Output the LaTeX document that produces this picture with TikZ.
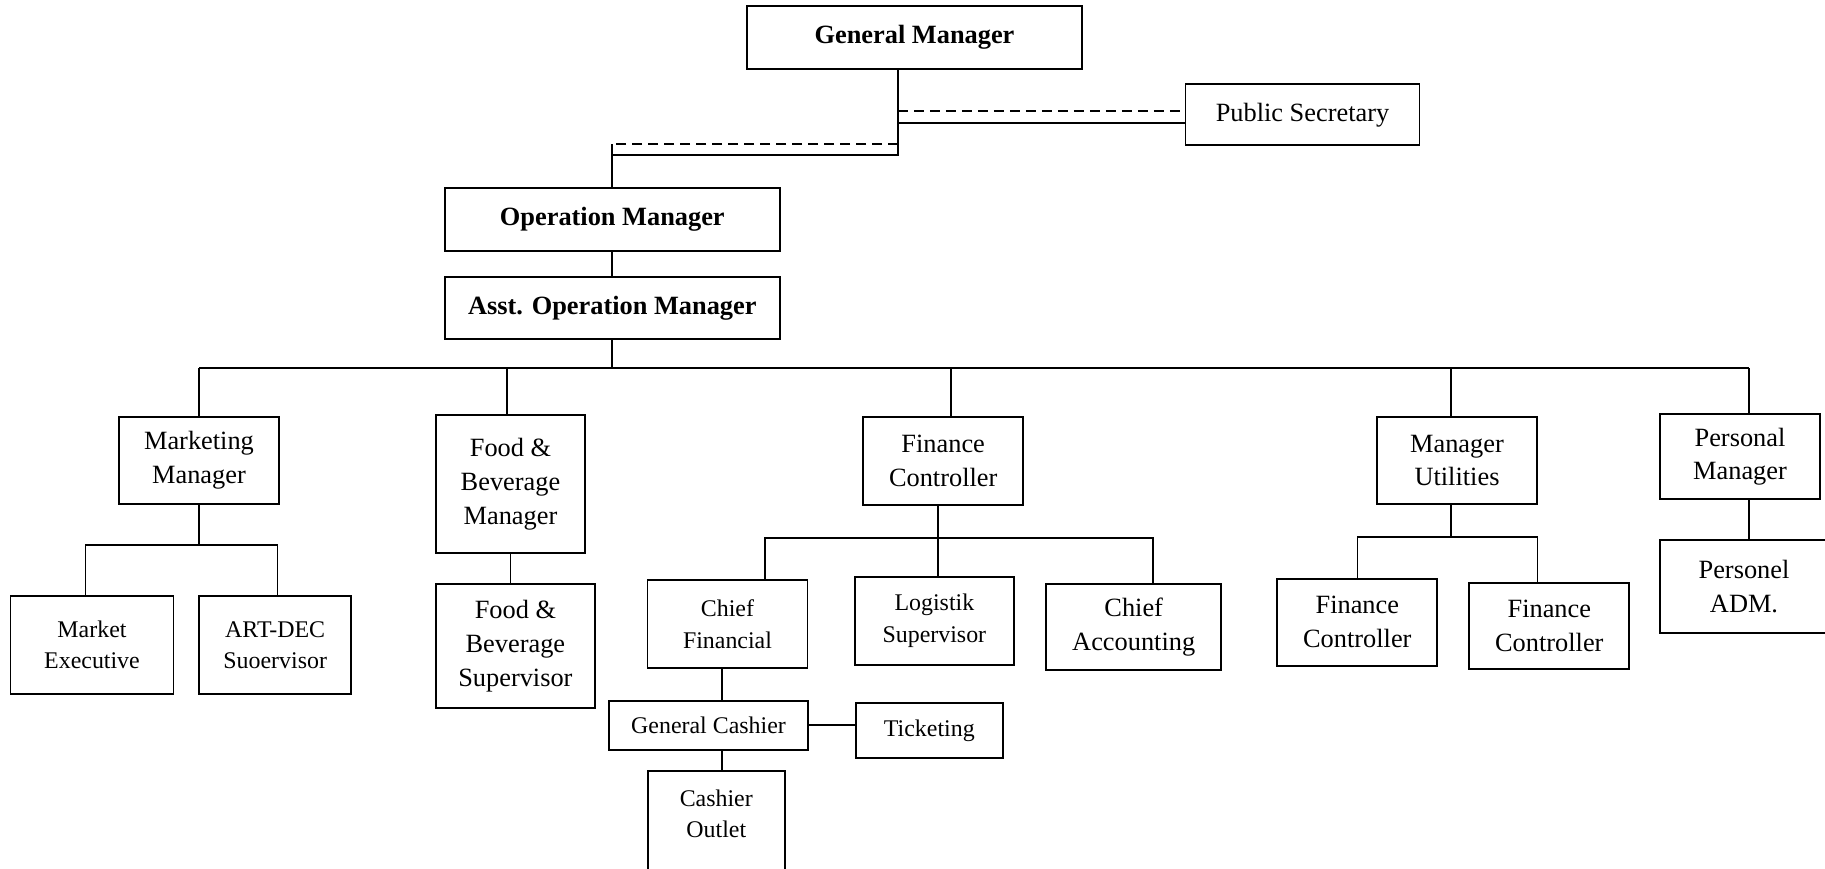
\documentclass[tikz,border=0pt]{standalone}
\usepackage{fontspec}
\setmainfont{Liberation Serif}

\begin{document}
\begin{tikzpicture}[x=0.2mm, y=-0.2mm,
  postbox/.style={draw, line width=1.1pt, align=center, inner sep=0pt, font=\fontsize{15}{19.3}\selectfont},
  postboxsm/.style={postbox, font=\fontsize{13.6}{17.9}\selectfont},
  headbox/.style={postbox, font=\fontsize{15}{19.3}\selectfont\bfseries},
  link/.style={line width=0.95pt},
  staffline/.style={line width=1.2pt, dash pattern=on 5.7pt off 3.4pt}]

\useasboundingbox (0,0) rectangle (1825,868);

% top management
\node[headbox, minimum width=67mm, minimum height=12.6mm] (gm) at (914.5,37.5) {General Manager};
\node[postbox, minimum width=46.8mm, minimum height=12.1mm] (ps) at (1302.5,114.7) {Public Secretary};
\node[headbox, minimum width=66.9mm, minimum height=12.5mm] (om) at (612.3,219.5) {Operation Manager};
\node[headbox, minimum width=66.9mm, minimum height=12.5mm] (aom) at (612.3,307.8) {Asst. Operation Manager};

% managers
\node[postbox, minimum width=32mm, minimum height=17.4mm] (mm) at (199,460.5) {Marketing\\Manager};
\node[postbox, minimum width=29.8mm, minimum height=27.6mm] (fbm) at (510.5,484) {Food \&\\Beverage\\Manager};
\node[postbox, minimum width=32.1mm, minimum height=17.5mm] (fc) at (943.2,460.8) {Finance\\Controller};
\node[postbox, minimum width=32mm, minimum height=17.4mm] (mu) at (1457,460.5) {Manager\\Utilities};
\node[postbox, minimum width=32mm, minimum height=17.1mm] (pm) at (1740,456.7) {Personal\\Manager};

% staff
\node[postboxsm, minimum width=32.6mm, minimum height=19.6mm] (me) at (92,644.7) {Market\\Executive};
\node[postboxsm, minimum width=30.5mm, minimum height=19.6mm] (ad) at (275.2,645.3) {ART-DEC\\Suoervisor};
\node[postbox, minimum width=31.9mm, minimum height=24.8mm] (fbs) at (515.4,646) {Food \&\\Beverage\\Supervisor};
\node[postboxsm, minimum width=32mm, minimum height=17.7mm] (cf) at (727.5,624) {Chief\\Financial};
\node[postboxsm, minimum width=31.8mm, minimum height=17.6mm] (ls) at (934.4,620.7) {Logistik\\Supervisor};
\node[postbox, minimum width=35.1mm, minimum height=17.2mm] (ca) at (1133.7,627) {Chief\\Accounting};
\node[postbox, minimum width=32mm, minimum height=17.3mm] (fc1) at (1357.3,622.3) {Finance\\Controller};
\node[postbox, minimum width=32mm, minimum height=17.3mm] (fc2) at (1549.3,625.8) {Finance\\Controller};
\node[postbox, minimum width=33.6mm, minimum height=18.6mm] (pa) at (1744,586.5) {Personel\\ADM.};
\node[postboxsm, minimum width=39.7mm, minimum height=9.9mm] (gc) at (708.5,725.3) {General Cashier};
\node[postboxsm, minimum width=29.3mm, minimum height=11.1mm] (tk) at (929.3,730.5) {Ticketing};
\node[postboxsm, anchor=north, minimum width=27.5mm, inner ysep=3.7mm, text depth=22mm] (co) at (716.3,770) {Cashier\\Outlet};

% general manager lines
\coordinate (gmx) at (898,155);
\path (om.north) ++(0,-43) coordinate (omx);
\draw[link] (gm.south -| gmx) -- (gmx) -- (gmx -| om.north);
\draw[staffline] (gmx |- omx) -- (omx);
\draw[link] (omx) -- (om.north);
\draw[link] ([yshift=-1.6mm]ps.west -| gmx) -- ([yshift=-1.6mm]ps.west);
\draw[staffline] ([yshift=0.8mm]ps.west -| gmx) -- ([yshift=0.8mm]ps.west);
\draw[link] (om.south) -- (aom.north);

% main bus
\coordinate (b1) at (199,368);
\coordinate (b2) at (507,368);
\coordinate (b3) at (951,368);
\coordinate (b4) at (1451,368);
\coordinate (b5) at (1749,368);
\draw[link] (aom.south) -- (aom.south |- b1);
\draw[link] (b1) -- (b5);
\draw[link] (b1) -- (b1 |- mm.north);
\draw[link] (b2) -- (b2 |- fbm.north);
\draw[link] (b3) -- (b3 |- fc.north);
\draw[link] (b4) -- (b4 |- mu.north);
\draw[link] (b5) -- (b5 |- pm.north);

% marketing
\coordinate (mkl) at (85.5,545);
\coordinate (mkr) at (277.5,545);
\draw[link] (mm.south) -- (mm.south |- mkl);
\draw[link] (mkl |- me.north) -- (mkl) -- (mkr) -- (mkr |- ad.north);

% food and beverage
\draw[link] (fbm.south) -- (fbm.south |- fbs.north);

% finance
\coordinate (fcl) at (765,538);
\coordinate (fcm) at (938,538);
\coordinate (fcr) at (1153,538);
\draw[link] (fc.south -| fcm) -- (fcm |- ls.north);
\draw[link] (fcl |- cf.north) -- (fcl) -- (fcr) -- (fcr |- ca.north);
\coordinate (cashx) at (722,700);
\draw[link] (cf.south -| cashx) -- (cashx |- gc.north);
\draw[link] (gc.south -| cashx) -- (cashx |- co.north);
\draw[link] (gc.east) -- (gc.east -| tk.west);

% utilities
\coordinate (mul) at (1357.6,537);
\coordinate (mum) at (1451,537);
\coordinate (mur) at (1537.4,537);
\draw[link] (mu.south -| mum) -- (mum);
\draw[link] (mul |- fc1.north) -- (mul) -- (mur) -- (mur |- fc2.north);

% personal
\draw[link] (pm.south -| b5) -- (b5 |- pa.north);

\end{tikzpicture}
\end{document}
